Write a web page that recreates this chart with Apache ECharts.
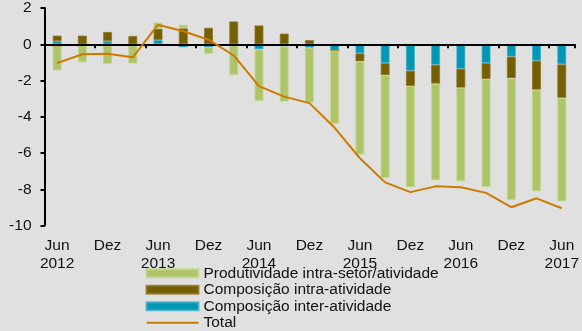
<!DOCTYPE html>
<html>
<head>
<meta charset="utf-8">
<script src="https://cdn.jsdelivr.net/npm/echarts@6/dist/echarts.min.js"></script>
<style>
  html, body { margin: 0; padding: 0; background: #e0e0e0; }
  #chart { width: 582px; height: 331px; }
</style>
</head>
<body>
<div id="chart"></div>
<script>
// Quarterly periods, Jun 2012 to Jun 2017
const periods = [
  'Jun\n2012', 'Set 2012', 'Dez', 'Mar 2013',
  'Jun\n2013', 'Set 2013', 'Dez', 'Mar 2014',
  'Jun\n2014', 'Set 2014', 'Dez', 'Mar 2015',
  'Jun\n2015', 'Set 2015', 'Dez', 'Mar 2016',
  'Jun\n2016', 'Set 2016', 'Dez', 'Mar 2017',
  'Jun\n2017'
];

// Contributions (p.p.)
const interAtividade = [0.17, 0, 0.17, 0, 0.23, -0.17, -0.17, 0, -0.28, -0.12, -0.19,
  -0.35, -0.5, -1.04, -1.46, -1.13, -1.35, -1.04, -0.68, -0.91, -1.11];
const intraAtividade = [0.31, 0.48, 0.51, 0.46, 0.63, 0.88, 0.91, 1.26, 1.04, 0.59, 0.23,
  0, -0.45, -0.67, -0.85, -1.05, -1.05, -0.89, -1.2, -1.6, -1.85];
const intraSetor = [-1.44, -1.0, -1.08, -1.06, 0.34, 0.2, -0.36, -1.71, -2.84, -3.04, -3.03,
  -4.04, -5.13, -5.67, -5.58, -5.33, -5.16, -5.94, -6.72, -5.6, -5.71];
const total = [-1.04, -0.55, -0.52, -0.72, 1.08, 0.72, 0.25, -0.62, -2.31, -2.89, -3.25,
  -4.61, -6.29, -7.62, -8.16, -7.84, -7.89, -8.2, -8.99, -8.5, -9.05];

const yTicks = { min: -10, max: 2, step: 2 };

const names = {
  green: 'Produtividade intra-setor/atividade',
  brown: 'Composição intra-atividade',
  blue: 'Composição inter-atividade',
  line: 'Total'
};

const FONT = "'Liberation Sans', Arial, sans-serif";
const chart = echarts.init(document.getElementById('chart'), null, { renderer: 'canvas' });

const barBase = { type: 'bar', stack: 'dec', barWidth: 9, xAxisIndex: 0 };

chart.setOption({
  backgroundColor: '#e0e0e0',
  animation: false,
  textStyle: { fontFamily: FONT },
  grid: { left: 44.5, right: 7, top: 5.5, bottom: 105.5, containLabel: false },
  legend: {
    orient: 'vertical',
    left: 145.5,
    top: 265,
    padding: 0,
    itemGap: 0,
    itemWidth: 52,
    itemHeight: 8,
    textStyle: { fontFamily: FONT, fontSize: 15.5, color: '#111', lineHeight: 16.5 },
    data: [
      { name: names.green, icon: 'rect' },
      { name: names.brown, icon: 'rect' },
      { name: names.blue, icon: 'rect' },
      { name: names.line, itemStyle: { opacity: 0 }, lineStyle: { width: 2, color: '#cc7a00' } }
    ]
  },
  xAxis: [
    {
      // zero line with ticks between every second quarter
      type: 'category',
      data: periods,
      position: 'bottom',
      z: 3,
      axisLine: { onZero: true, lineStyle: { color: '#000', width: 2 } },
      axisTick: { show: true, interval: 1, length: 4, lineStyle: { color: '#000', width: 2 } },
      axisLabel: { show: false }
    },
    {
      // period labels under the plot
      type: 'category',
      data: periods,
      position: 'bottom',
      offset: 0,
      axisLine: { show: false, onZero: false },
      axisTick: { show: false },
      axisLabel: {
        interval: 1,
        margin: 11.5,
        fontFamily: FONT,
        fontSize: 15.5,
        lineHeight: 17.7,
        color: '#111',
        verticalAlign: 'top'
      }
    }
  ],
  yAxis: {
    type: 'value',
    min: yTicks.min,
    max: yTicks.max,
    interval: yTicks.step,
    axisLine: { show: true, lineStyle: { color: '#000', width: 2 } },
    axisTick: { show: true, length: 4, lineStyle: { color: '#000', width: 2 } },
    splitLine: { show: false },
    axisLabel: { margin: 13, fontFamily: FONT, fontSize: 15.5, color: '#111' }
  },
  series: [
    Object.assign({}, barBase, {
      name: names.blue,
      data: interAtividade,
      itemStyle: { color: '#0096b6', borderColor: 'rgba(60,175,200,0.8)', borderWidth: 1 }
    }),
    Object.assign({}, barBase, {
      name: names.brown,
      data: intraAtividade,
      itemStyle: { color: '#765f00', borderColor: 'rgba(140,118,40,0.8)', borderWidth: 1 }
    }),
    Object.assign({}, barBase, {
      name: names.green,
      data: intraSetor,
      itemStyle: { color: '#adc468', borderColor: 'rgba(196,214,140,0.9)', borderWidth: 1 }
    }),
    {
      name: names.line,
      type: 'line',
      data: total,
      z: 4,
      symbol: 'none',
      lineStyle: { color: '#cc7a00', width: 2 },
      itemStyle: { color: '#cc7a00' }
    }
  ]
});
</script>
</body>
</html>
